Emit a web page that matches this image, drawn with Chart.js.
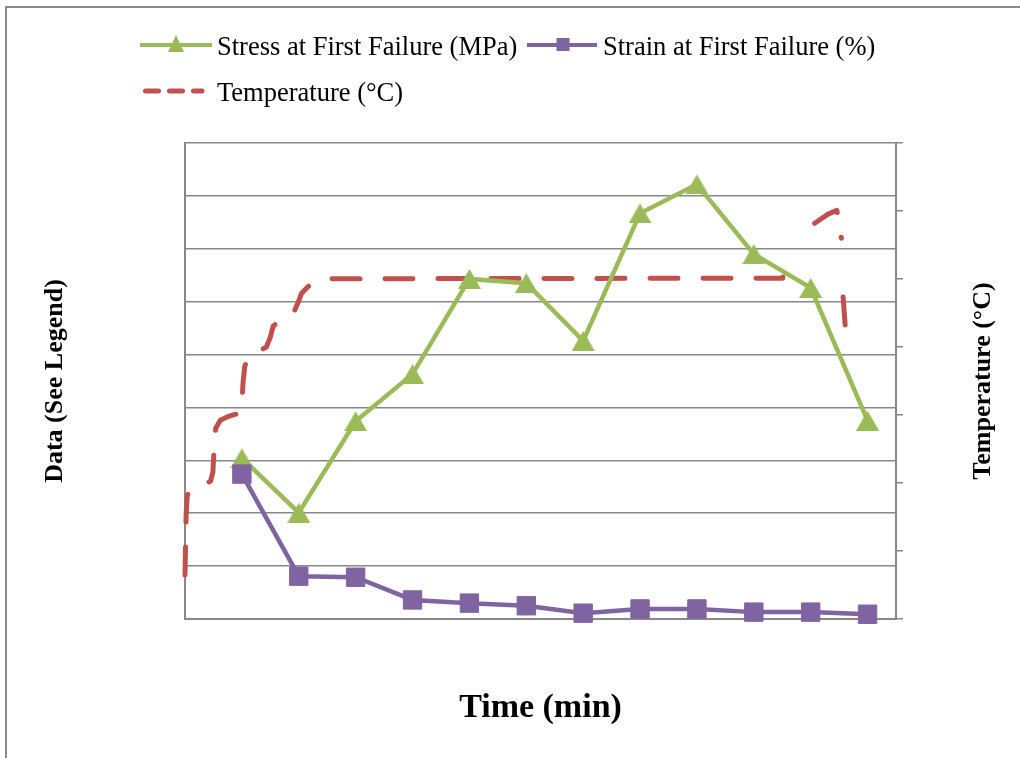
<!DOCTYPE html>
<html>
<head>
<meta charset="utf-8">
<script src="https://cdn.jsdelivr.net/npm/chart.js@4.4.1/dist/chart.umd.min.js"></script>
<style>
html,body{margin:0;padding:0;background:#fff;}
#wrap{width:1020px;height:758px;position:relative;}
</style>
</head>
<body>
<div id="wrap"><canvas id="c" width="1020" height="758"></canvas></div>
<script>
// ---- data ----
const timeMin   = [1, 2, 3, 4, 5, 6, 7, 8, 9, 10, 11, 12];
const stressMPa = [30.4, 20.1, 37.4, 46.3, 64.3, 63.5, 52.6, 76.7, 82.2, 69.0, 62.6, 37.5];
const strainPct = [27.4, 8.1, 7.9, 3.6, 3.0, 2.5, 1.1, 1.9, 1.9, 1.3, 1.3, 0.9];
const tempTime  = [0, 0.01, 0.02, 0.04, 0.13, 0.31, 0.45, 0.49, 0.51, 0.54, 0.62, 0.78, 0.96, 1.00, 1.02, 1.05, 1.13, 1.29, 1.43, 1.50, 1.55, 1.66, 1.80, 1.93, 1.99, 2.05, 2.17, 2.33, 2.54, 10.51, 10.52, 10.8, 11.07, 11.30, 11.46, 11.51, 11.54, 11.55, 11.57, 11.63];
const tempC     = [32.3, 54.4, 76.4, 91.1, 95.5, 98.5, 101.4, 108.0, 124.2, 140.3, 146.2, 149.2, 151.4, 158.0, 173.4, 185.9, 193.3, 196.9, 199.9, 207.2, 215.3, 219.0, 221.9, 227.1, 232.9, 239.6, 244.7, 248.4, 250.2, 250.6, 260.1, null, 291.0, 297.5, 300.5, 287.3, 280.0, null, 236.8, 202.6];
const seriesNames = ['Stress at First Failure (MPa)', 'Strain at First Failure (%)', 'Temperature (\u00B0C)'];
const xTitle = 'Time (min)';
const yLeftTitle = 'Data (See Legend)';
const yRightTitle = 'Temperature (\u00B0C)';

// ---- styles ----
const GREEN = '#9BBB59', PURPLE = '#8064A2', RED = '#C0504D', GRID = '#888888';
const SERIF = '"Liberation Serif", "Times New Roman", serif';

const triImg = document.createElement('canvas');
triImg.width = 23; triImg.height = 20;
(function(){ const t = triImg.getContext('2d'); t.fillStyle = GREEN; t.beginPath();
  t.moveTo(11.5, 0); t.lineTo(23, 20); t.lineTo(0, 20); t.closePath(); t.fill(); })();

const stressData = timeMin.map((t, i) => ({x: t, y: stressMPa[i]}));
const strainData = timeMin.map((t, i) => ({x: t, y: strainPct[i]}));
const tempData   = tempTime.map((t, i) => ({x: t, y: tempC[i]}));

const decor = {
  id: 'decor',
  beforeDraw(chart) {
    const c = chart.ctx;
    c.save();
    c.strokeStyle = '#8a8a8a'; c.lineWidth = 2;
    c.beginPath(); c.moveTo(6, 760); c.lineTo(6, 7); c.lineTo(1025, 7); c.stroke();
    c.restore();
  },
  afterDraw(chart) {
    const c = chart.ctx;
    c.save();
    // legend item 1
    c.lineCap = 'butt';
    c.strokeStyle = GREEN; c.lineWidth = 4;
    c.beginPath(); c.moveTo(140, 45); c.lineTo(212, 45); c.stroke();
    c.fillStyle = GREEN; c.beginPath();
    c.moveTo(176, 35); c.lineTo(184, 52); c.lineTo(168, 52); c.closePath(); c.fill();
    // legend item 2
    c.strokeStyle = PURPLE; c.lineWidth = 4;
    c.beginPath(); c.moveTo(527, 45); c.lineTo(597, 45); c.stroke();
    c.fillStyle = PURPLE; c.fillRect(556.5, 38, 13, 13);
    // legend item 3
    c.strokeStyle = RED; c.lineWidth = 5; c.lineCap = 'round';
    c.setLineDash([13, 11]);
    c.beginPath(); c.moveTo(145.5, 91); c.lineTo(202, 91); c.stroke();
    c.setLineDash([]);
    // legend text
    c.fillStyle = '#000'; c.font = '26.5px ' + SERIF;
    c.textAlign = 'left'; c.textBaseline = 'alphabetic';
    c.fillText(seriesNames[0], 217, 55);
    c.fillText(seriesNames[1], 603, 55);
    c.fillText(seriesNames[2], 217, 101);
    // right axis title (reads bottom-to-top)
    c.translate(983, 381); c.rotate(-Math.PI / 2);
    c.font = 'bold 26px ' + SERIF; c.textAlign = 'center'; c.textBaseline = 'middle';
    c.fillText(yRightTitle, 0, 0);
    c.restore();
  }
};

new Chart(document.getElementById('c'), {
  type: 'line',
  data: {
    datasets: [
      { label: seriesNames[1], data: strainData, yAxisID: 'y', borderColor: PURPLE, backgroundColor: PURPLE,
        borderWidth: 4.5, tension: 0, pointStyle: 'rect', pointRadius: 13, pointBorderWidth: 1,
        pointBackgroundColor: PURPLE, pointBorderColor: PURPLE, clip: false, order: 0 },
      { label: seriesNames[0], data: stressData, yAxisID: 'y', borderColor: GREEN, backgroundColor: GREEN,
        borderWidth: 4.5, tension: 0, pointStyle: triImg, pointRadius: 11, clip: false, order: 1 },
      { label: seriesNames[2], data: tempData, yAxisID: 'y1', borderColor: RED, backgroundColor: RED,
        borderWidth: 5, borderDash: [28, 25], borderCapStyle: 'round', borderJoinStyle: 'round',
        tension: 0, pointRadius: 0, spanGaps: false, clip: false, order: 2 }
    ]
  },
  options: {
    responsive: false,
    animation: false,
    events: [],
    layout: { padding: { top: 143, left: 0, right: 0, bottom: 0 } },
    plugins: { legend: { display: false }, tooltip: { enabled: false } },
    scales: {
      x: {
        type: 'linear', min: 0, max: 12.5,
        ticks: { display: false },
        grid: { display: false },
        border: { display: true, color: GRID, width: 2 },
        title: { display: true, text: xTitle, color: '#000',
                 font: { family: SERIF, size: 34, weight: 'bold' }, padding: { top: 0, bottom: 29 } },
        afterFit(s) { s.height = 139; }
      },
      y: {
        position: 'left', min: 0, max: 90,
        ticks: { display: false, stepSize: 10 },
        grid: { color: GRID, lineWidth: 1.5, drawTicks: false },
        border: { display: true, color: GRID, width: 2 },
        title: { display: true, text: yLeftTitle, color: '#000',
                 font: { family: SERIF, size: 26, weight: 'bold' }, padding: { top: 40, bottom: 0 } },
        afterFit(s) { s.width = 185; }
      },
      y1: {
        position: 'right', min: 0, max: 350,
        ticks: { display: false, stepSize: 50 },
        grid: { drawOnChartArea: false, drawTicks: true, tickLength: 7, color: GRID, lineWidth: 1.5 },
        border: { display: true, color: GRID, width: 2 },
        afterFit(s) { s.width = 124; }
      }
    }
  },
  plugins: [decor]
});
</script>
</body>
</html>
